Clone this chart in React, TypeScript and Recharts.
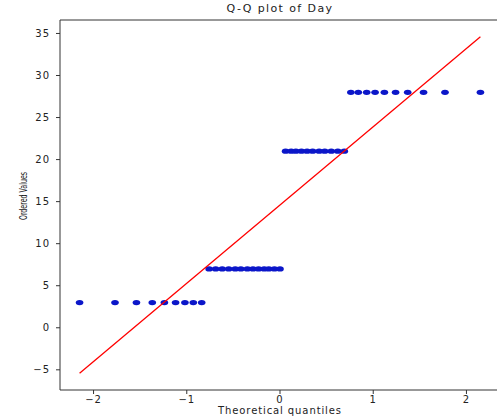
import {
  ScatterChart,
  Scatter,
  XAxis,
  YAxis,
  ReferenceLine,
} from "recharts"

// theoretical quantiles (x) grouped by the ordered value they pair with
const dayValues = [3, 7, 21, 28]
const quantilesAt3 = [-2.15, -1.77, -1.54, -1.37, -1.24, -1.12, -1.02, -0.93, -0.84]
const quantilesAt7 = [
  -0.76, -0.69, -0.62, -0.55, -0.48, -0.42, -0.35, -0.29, -0.23, -0.17, -0.12, -0.06, 0,
]
const quantilesAt21 = [0.06, 0.12, 0.17, 0.23, 0.29, 0.35, 0.42, 0.48, 0.55, 0.62, 0.69]
const quantilesAt28 = [0.76, 0.84, 0.93, 1.02, 1.12, 1.24, 1.37, 1.54, 1.77, 2.15]

// least-squares fit endpoints
const fitX = [-2.15, 2.15]
const fitY = [-5.4, 34.6]

const xTicks = [-2, -1, 0, 1, 2]
const yTicks = [-5, 0, 5, 10, 15, 20, 25, 30, 35]

const xDomain: [number, number] = [-2.36, 2.36]
const yDomain: [number, number] = [-7.4, 36.6]

const groups = [quantilesAt3, quantilesAt7, quantilesAt21, quantilesAt28]
const points = groups.flatMap((qs, g) => qs.map((x) => ({ x, y: dayValues[g] })))
const fitLine = fitX.map((x, i) => ({ x, y: fitY[i] }))

const font = "'DejaVu Sans', sans-serif"
const axisColor = "#333"
const textColor = "#222"

const tickStyle = { fontSize: 10, fontFamily: font, fill: textColor, letterSpacing: 1 }
const minus = (v: number) => String(v).replace("-", "\u2212")

const Dot = (props: any) => {
  const { cx, cy } = props
  if (cx == null || cy == null) return null
  return <ellipse cx={cx} cy={cy} rx={3.8} ry={2.6} fill="#0b16c9" />
}

export default function App() {
  return (
    <div
      style={{
        position: "absolute",
        left: 0,
        top: 0,
        width: 497,
        height: 417,
        overflow: "hidden",
        background: "#fff",
      }}
    >
      <div
        style={{
          position: "absolute",
          top: 2,
          left: 60,
          width: 440,
          textAlign: "center",
          fontFamily: font,
          fontSize: 11,
          letterSpacing: 1.4,
          color: textColor,
        }}
      >
        Q-Q plot of Day
      </div>
      <div
        style={{
          position: "absolute",
          left: 23,
          top: 196,
          transform: "translate(-50%, -50%) rotate(-90deg) scaleX(0.7)",
          fontFamily: "'DejaVu Sans Condensed', 'Liberation Sans Narrow', sans-serif",
          fontSize: 10,
          color: textColor,
          whiteSpace: "nowrap",
        }}
      >
        Ordered Values
      </div>
      <ScatterChart
        width={510}
        height={417}
        margin={{ top: 20, right: 10, left: 0, bottom: 0 }}
      >
        <XAxis
          type="number"
          dataKey="x"
          domain={xDomain}
          ticks={xTicks}
          allowDataOverflow
          height={27}
          tickSize={4}
          tickMargin={2}
          stroke={axisColor}
          tick={tickStyle}
          tickFormatter={minus}
          label={{
            value: "Theoretical quantiles",
            position: "insideBottom",
            offset: 3,
            style: { fontSize: 10, fontFamily: font, fill: textColor, letterSpacing: 0.9 },
          }}
        />
        <YAxis
          type="number"
          dataKey="y"
          domain={yDomain}
          ticks={yTicks}
          allowDataOverflow
          width={60}
          tickSize={4}
          tickMargin={6}
          stroke={axisColor}
          tick={tickStyle}
          tickFormatter={minus}
        />
        <ReferenceLine y={yDomain[1]} stroke={axisColor} strokeWidth={1} />
        <Scatter data={points} shape={<Dot />} isAnimationActive={false} />
        <Scatter
          data={fitLine}
          line={{ stroke: "#ff0000", strokeWidth: 1.3 }}
          shape={() => null}
          isAnimationActive={false}
        />
      </ScatterChart>
    </div>
  )
}
